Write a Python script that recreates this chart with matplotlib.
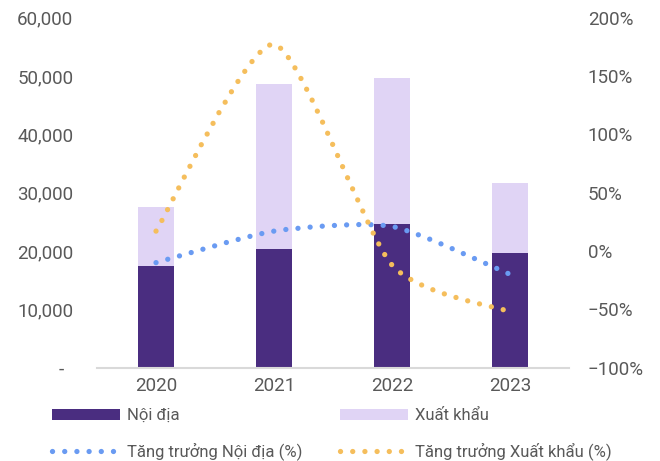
import numpy as np
import matplotlib
matplotlib.use("Agg")
import matplotlib.pyplot as plt
import matplotlib.ticker as mticker
from matplotlib.path import Path
from matplotlib.patches import PathPatch, Patch
from matplotlib.lines import Line2D

plt.rcParams["font.family"] = ["Roboto", "DejaVu Sans"]

# values
years = ["2020", "2021", "2022", "2023"]
noi_dia = [17400, 20300, 24700, 19700]
xuat_khau = [10100, 28300, 24900, 11900]
tang_truong_noi_dia = [-0.10, 0.17, 0.21, -0.20]
tang_truong_xuat_khau = [0.17, 1.77, -0.12, -0.52]

C_DARK = "#4A2D80"
C_LIGHT = "#E0D4F5"
C_BLUE = "#6A9BF2"
C_ORANGE = "#F5BE5C"
C_TEXT = "#595959"
DOTS = (0, (0.01, 2.3))
LW = 3.8


def smooth_path(xs, ys, k=1 / 9):
    """Smoothed line like Excel's: cubic Bezier segments through the points."""
    pts = np.column_stack([xs, ys]).astype(float)
    verts = [pts[0]]
    codes = [Path.MOVETO]
    n = len(pts)
    for i in range(n - 1):
        p0 = pts[max(i - 1, 0)]
        p1, p2 = pts[i], pts[i + 1]
        p3 = pts[min(i + 2, n - 1)]
        verts += [p1 + (p2 - p0) * k, p2 - (p3 - p1) * k, p2]
        codes += [Path.CURVE4] * 3
    return Path(verts, codes)


fig = plt.figure(figsize=(6.6, 4.61), dpi=100)
ax = fig.add_axes([0.147, 0.2024, 0.715, 0.7596])
x = np.arange(len(years))

ax.bar(x, noi_dia, width=0.31, color=C_DARK, zorder=2)
ax.bar(x, xuat_khau, width=0.31, bottom=noi_dia, color=C_LIGHT, zorder=2)

ax.set_xlim(-0.5, 3.5)
ax.set_ylim(0, 60000)
ax.set_xticks(x)
ax.set_xticklabels(years)
ax.set_yticks(range(0, 60001, 10000))
ax.yaxis.set_major_formatter(
    mticker.FuncFormatter(lambda v, _: "-  " if v == 0 else f"{v:,.0f}"))
ax.tick_params(axis="both", length=0, colors=C_TEXT, labelsize=13.5)
ax.tick_params(axis="y", pad=17)
ax.tick_params(axis="x", pad=7)
for s in ["top", "left", "right"]:
    ax.spines[s].set_visible(False)
ax.spines["bottom"].set_color("#D9D9D9")
ax.spines["bottom"].set_linewidth(1.5)

ax2 = ax.twinx()
ax2.set_ylim(-1, 2)
ax2.set_yticks(np.arange(-1, 2.01, 0.5))
ax2.yaxis.set_major_formatter(mticker.PercentFormatter(1.0, decimals=0))
ax2.tick_params(axis="y", length=0, colors=C_TEXT, labelsize=13.5, pad=13.5)
for s in ax2.spines.values():
    s.set_visible(False)

for series, col in [(tang_truong_noi_dia, C_BLUE), (tang_truong_xuat_khau, C_ORANGE)]:
    patch = PathPatch(smooth_path(x, series), fill=False, edgecolor=col,
                      lw=LW, linestyle=DOTS, capstyle="round", zorder=3)
    ax2.add_patch(patch)

handles = [
    Patch(facecolor=C_DARK),
    Line2D([], [], color=C_BLUE, lw=LW, linestyle=DOTS, dash_capstyle="round"),
    Patch(facecolor=C_LIGHT),
    Line2D([], [], color=C_ORANGE, lw=LW, linestyle=DOTS, dash_capstyle="round"),
]
labels = ["Nội địa", "Tăng trưởng Nội địa (%)", "Xuất khẩu", "Tăng trưởng Xuất khẩu (%)"]
leg = fig.legend(handles, labels, ncol=2, loc="lower left",
                 bbox_to_anchor=(0.056, -0.031), frameon=False, fontsize=12,
                 handlelength=4.1, handletextpad=0.4, columnspacing=2.25,
                 labelspacing=1.15, labelcolor=C_TEXT)

fig.savefig("out.png", dpi=100)
